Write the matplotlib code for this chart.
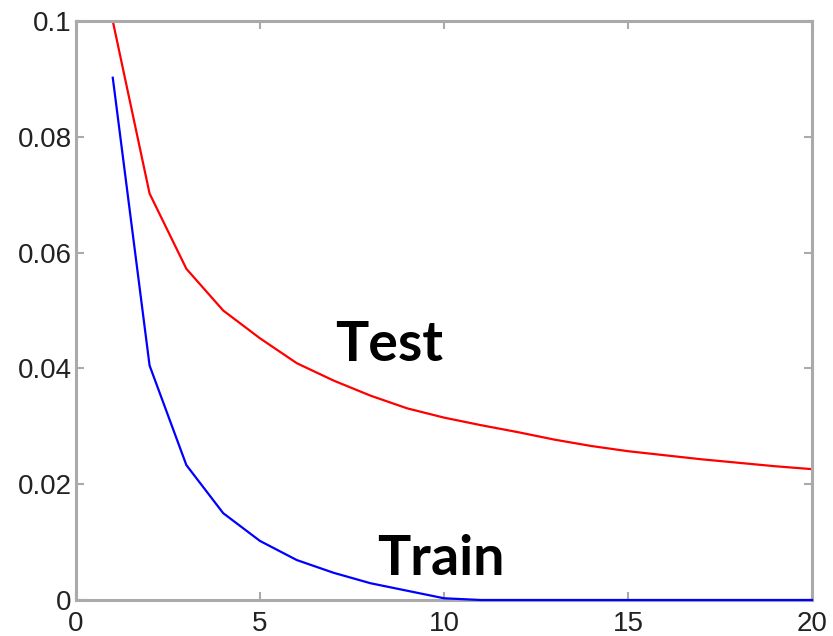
import matplotlib
matplotlib.use("Agg")
import matplotlib.pyplot as plt

epochs = list(range(1, 21))
test_err = [0.100, 0.0702, 0.0572, 0.0500, 0.0452, 0.0409, 0.0379, 0.0353, 0.0331, 0.0315,
            0.0302, 0.0290, 0.0277, 0.0266, 0.0257, 0.0250, 0.0243, 0.0237, 0.0231, 0.0226]
train_err = [0.0902, 0.0405, 0.0233, 0.0150, 0.0102, 0.0069, 0.0047, 0.0029, 0.0016, 0.0003,
             0.0, 0.0, 0.0, 0.0, 0.0, 0.0, 0.0, 0.0, 0.0, 0.0]
xticks = [0, 5, 10, 15, 20]
yticks = [0, 0.02, 0.04, 0.06, 0.08, 0.1]
ytick_labels = ["0", "0.02", "0.04", "0.06", "0.08", "0.1"]

fig = plt.figure(figsize=(8.33, 6.36), dpi=100)
ax = fig.add_axes([0.0912, 0.0566, 0.9748 - 0.0912, 0.967 - 0.0566])

ax.plot(epochs, test_err, color="#ff0000", lw=1.6)
ax.plot(epochs, train_err, color="#0000ff", lw=1.6, zorder=3, clip_on=False)

ax.set_xlim(0, 20)
ax.set_ylim(0, 0.1)
ax.set_xticks(xticks)
ax.set_xticklabels([str(t) for t in xticks])
ax.set_yticks(yticks)
ax.set_yticklabels(ytick_labels)

for s in ax.spines.values():
    s.set_color("#aaaaaa")
    s.set_linewidth(2.2)

ax.tick_params(axis="both", which="both", direction="in", length=6, width=1.5,
               color="#aaaaaa", top=True, right=True, labelsize=20,
               labelcolor="#222222")
ax.tick_params(axis="x", pad=8)
ax.tick_params(axis="y", pad=3)
for lab in ax.get_xticklabels() + ax.get_yticklabels():
    lab.set_family("Liberation Sans")

ax.text(7.04, 0.0412, "Test", fontsize=40, fontweight="bold", family="Lato",
        color="black", ha="left", va="baseline")
ax.text(8.17, 0.0043, "Train", fontsize=40, fontweight="bold", family="Lato",
        color="black", ha="left", va="baseline")

fig.savefig("out.png", dpi=100)
